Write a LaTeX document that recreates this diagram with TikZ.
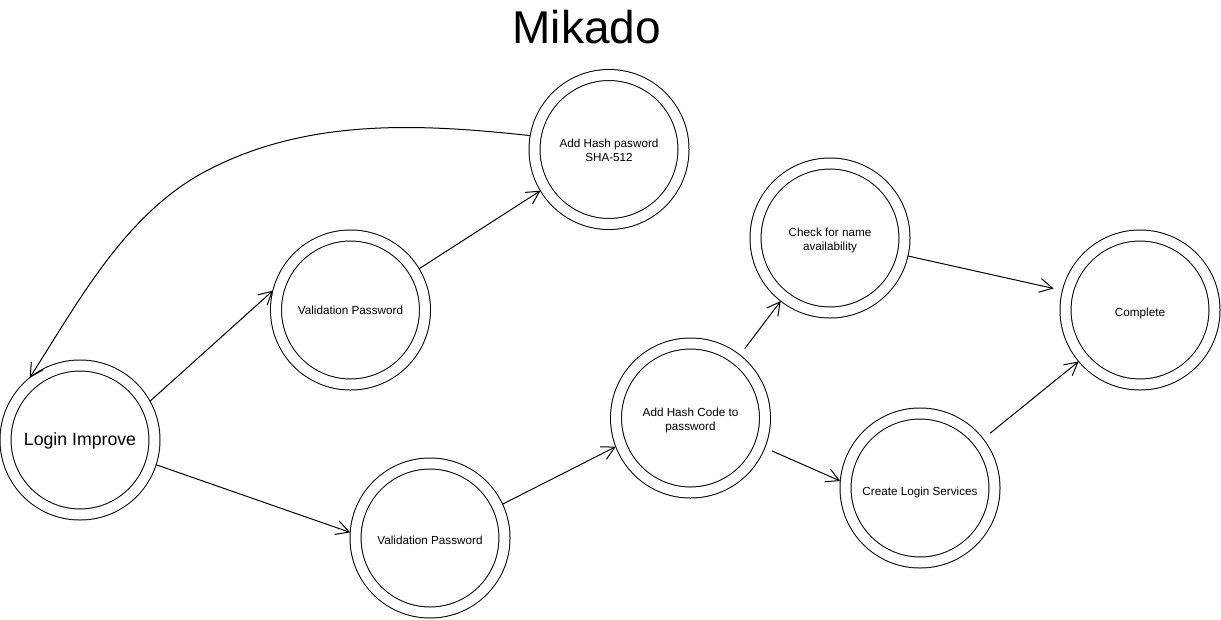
\documentclass[tikz,border=0pt]{standalone}
\usepackage{fontspec}
\setmainfont{Liberation Sans}
\usetikzlibrary{arrows.meta,calc}
\begin{document}
\begin{tikzpicture}[x=1pt,y=-1pt,
  state/.style={circle, draw, line width=1pt, double=white, double distance=10pt,
    minimum size=149pt, inner sep=0pt, outer sep=5.5pt},
  txt/.style={font=\fontsize{11.7}{14}\selectfont, align=center, inner sep=0pt},
  edge/.style={line width=1pt, -{Straight Barb[length=13pt,width=14pt,line width=1pt]}}]
\fill[white] (0,0) rectangle (1221,619);
\useasboundingbox (0,0) rectangle (1221,619);

\node[anchor=base, font=\fontsize{46}{50}\selectfont] (title) at (586.7,43) {Mikado};

\node[state, label={[txt, font=\fontsize{17.7}{20}\selectfont, yshift=-1pt]center:Login Improve}] (LI) at (80,440) {};
\node[state, label={[txt]center:Validation Password}] (VP1) at (350.5,310) {};
\node[state, label={[txt, yshift=-1pt]center:Add Hash pasword\\SHA-512}] (AH) at (609,149.5) {};
\node[state, label={[txt, yshift=-2pt]center:Validation Password}] (VP2) at (430,538) {};
\node[state, label={[txt, yshift=-2.5pt]center:Add Hash Code to\\password}] (AHC) at (690.5,418) {};
\node[state, label={[txt, yshift=-2.5pt]center:Check for name\\availability}] (CN) at (830,238) {};
\node[state, label={[txt, yshift=-4pt]center:Create Login Services}] (CLS) at (920,488) {};
\node[state, label={[txt, yshift=-3pt]center:Complete}] (CO) at (1140,310) {};

\coordinate (bend) at (214,167);

\draw[edge] (LI.29.6) -- (VP1.166);
\draw[edge] (VP1.31.8) -- (AH.211);
\draw[edge] (AH.170) .. controls (423,124) and (313,118) .. (bend)
  .. controls (128.5,208) and (81.3,297.2) .. (LI.129);
\draw[edge] (LI.-18.7) -- (VP2.176.4);
\draw[edge] (VP2.25.6) -- (AHC.201.8);
\draw[edge] ($(AHC.center)!88pt!(AHC.52.4)$) -- (CN.232.6);
\draw[edge] ($(AHC.center)!88pt!(AHC.-22.8)$) -- (CLS.175);
\draw[edge] (CN.-13) -- ($(CO.center)!89pt!(CO.166.4)$);
\draw[edge] ($(CLS.center)!89pt!(CLS.38)$) -- (CO.220.2);
\end{tikzpicture}
\end{document}
